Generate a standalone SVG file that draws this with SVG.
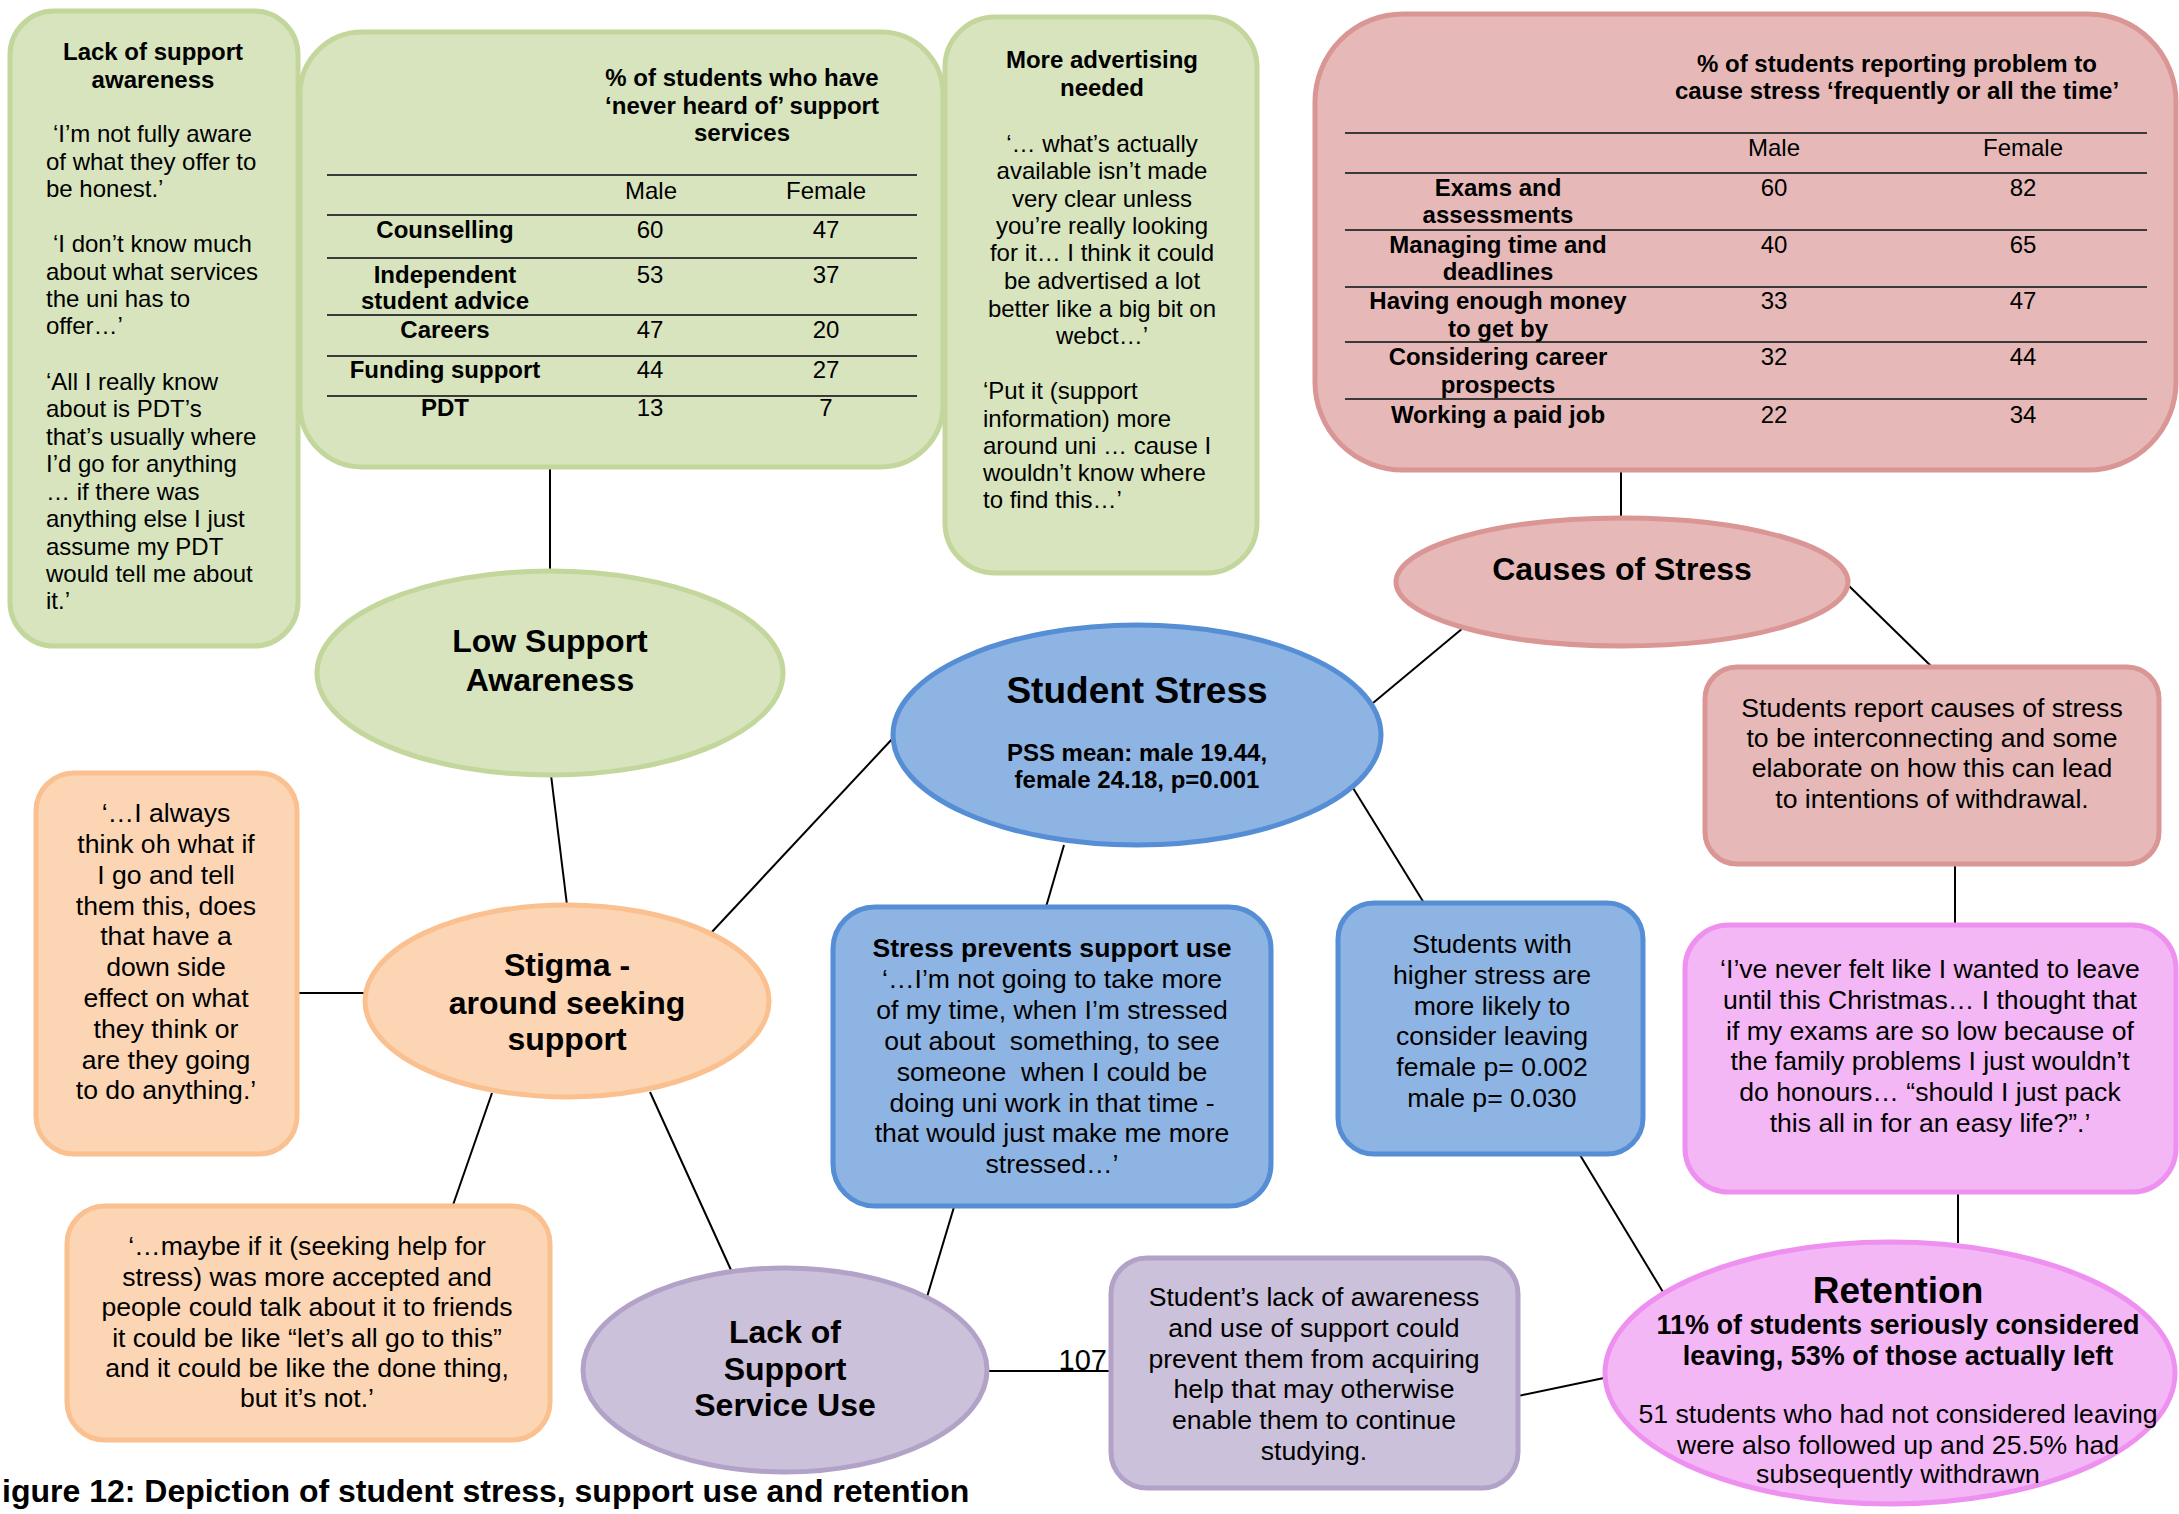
<svg xmlns="http://www.w3.org/2000/svg" width="2179" height="1514" viewBox="0 0 2179 1514">
<style>
text{font-family:"Liberation Sans",Arial,sans-serif;fill:#000}
.c{text-anchor:middle}
.r24{font-size:24px}
.b24{font-size:24px;font-weight:bold}
.r26{font-size:26.6px}
.b26{font-size:26.6px;font-weight:bold}
.b27{font-size:27px;font-weight:bold}
.b32{font-size:32px;font-weight:bold}
.b36{font-size:37px;font-weight:bold}
.green{fill:#D7E4BD;stroke:#C3D69B;stroke-width:5}
.red{fill:#E6B9B8;stroke:#D99694;stroke-width:5}
.blue{fill:#8EB4E3;stroke:#558ED5;stroke-width:5}
.orange{fill:#FCD5B5;stroke:#FAC090;stroke-width:5}
.purple{fill:#CCC1DA;stroke:#B3A2C7;stroke-width:5}
.magenta{fill:#F4B7F5;stroke:#EE90EF;stroke-width:5}
.rule{stroke:#3a3a3a;stroke-width:2}
.conn line{stroke:#000;stroke-width:2}
</style>
<rect width="2179" height="1514" fill="#fff"/>

<g id="connectors" class="conn">
<line x1="550" y1="468" x2="550" y2="571"/>
<line x1="551" y1="775" x2="567" y2="905"/>
<line x1="710" y1="934" x2="894" y2="737"/>
<line x1="297" y1="993" x2="366" y2="993"/>
<line x1="492" y1="1093" x2="453" y2="1205"/>
<line x1="650" y1="1092" x2="731" y2="1270"/>
<line x1="1064" y1="845" x2="1046" y2="907"/>
<line x1="954" y1="1207" x2="927" y2="1297"/>
<line x1="1353" y1="788" x2="1424" y2="903"/>
<line x1="1373" y1="703" x2="1463" y2="628"/>
<line x1="1621" y1="470" x2="1621" y2="518"/>
<line x1="1848" y1="585" x2="1932" y2="667"/>
<line x1="1955" y1="864" x2="1955" y2="925"/>
<line x1="1958" y1="1192" x2="1958" y2="1243"/>
<line x1="1580" y1="1155" x2="1663" y2="1292"/>
<line x1="1518" y1="1396" x2="1604" y2="1378"/>
<line x1="986" y1="1371" x2="1110" y2="1371"/>
</g>

<g id="lack-of-support-awareness">
<rect class="green" x="10" y="11" width="288" height="635" rx="44"/>
<text class="b24 c" x="153" y="60">Lack of support</text>
<text class="b24 c" x="153" y="88">awareness</text>
<text class="r24" x="53" y="142">‘I’m not fully aware</text>
<text class="r24" x="46" y="170">of what they offer to</text>
<text class="r24" x="46" y="197">be honest.’</text>
<text class="r24" x="53" y="252">‘I don’t know much</text>
<text class="r24" x="46" y="280">about what services</text>
<text class="r24" x="46" y="307">the uni has to</text>
<text class="r24" x="46" y="334">offer…’</text>
<text class="r24" x="46" y="390">‘All I really know</text>
<text class="r24" x="46" y="417">about is PDT’s</text>
<text class="r24" x="46" y="445">that’s usually where</text>
<text class="r24" x="46" y="472">I’d go for anything</text>
<text class="r24" x="46" y="500">… if there was</text>
<text class="r24" x="46" y="527">anything else I just</text>
<text class="r24" x="46" y="555">assume my PDT</text>
<text class="r24" x="46" y="582">would tell me about</text>
<text class="r24" x="46" y="609">it.’</text>
</g>

<g id="never-heard-table">
<rect class="green" x="300" y="32" width="643" height="435" rx="62"/>
<text class="b24 c" x="742" y="86">% of students who have</text>
<text class="b24 c" x="742" y="114">‘never heard of’ support</text>
<text class="b24 c" x="742" y="141">services</text>
<line class="rule" x1="327" y1="175" x2="917" y2="175"/>
<line class="rule" x1="327" y1="215" x2="917" y2="215"/>
<line class="rule" x1="327" y1="258" x2="917" y2="258"/>
<line class="rule" x1="327" y1="315" x2="917" y2="315"/>
<line class="rule" x1="327" y1="356" x2="917" y2="356"/>
<line class="rule" x1="327" y1="396" x2="917" y2="396"/>
<text class="r24 c" x="651" y="199">Male</text>
<text class="r24 c" x="826" y="199">Female</text>
<text class="b24 c" x="445" y="238">Counselling</text>
<text class="r24 c" x="650" y="238">60</text>
<text class="r24 c" x="826" y="238">47</text>
<text class="b24 c" x="445" y="283">Independent</text>
<text class="b24 c" x="445" y="309">student advice</text>
<text class="r24 c" x="650" y="283">53</text>
<text class="r24 c" x="826" y="283">37</text>
<text class="b24 c" x="445" y="338">Careers</text>
<text class="r24 c" x="650" y="338">47</text>
<text class="r24 c" x="826" y="338">20</text>
<text class="b24 c" x="445" y="378">Funding support</text>
<text class="r24 c" x="650" y="378">44</text>
<text class="r24 c" x="826" y="378">27</text>
<text class="b24 c" x="445" y="416">PDT</text>
<text class="r24 c" x="650" y="416">13</text>
<text class="r24 c" x="826" y="416">7</text>
</g>

<g id="more-advertising-needed">
<rect class="green" x="945" y="17" width="312" height="556" rx="50"/>
<text class="b24 c" x="1102" y="68">More advertising</text>
<text class="b24 c" x="1102" y="96">needed</text>
<text class="r24 c" x="1102" y="152">‘… what’s actually</text>
<text class="r24 c" x="1102" y="179">available isn’t made</text>
<text class="r24 c" x="1102" y="207">very clear unless</text>
<text class="r24 c" x="1102" y="234">you’re really looking</text>
<text class="r24 c" x="1102" y="261">for it… I think it could</text>
<text class="r24 c" x="1102" y="289">be advertised a lot</text>
<text class="r24 c" x="1102" y="317">better like a big bit on</text>
<text class="r24 c" x="1102" y="344">webct…’</text>
<text class="r24" x="983" y="399">‘Put it (support</text>
<text class="r24" x="983" y="427">information) more</text>
<text class="r24" x="983" y="454">around uni … cause I</text>
<text class="r24" x="983" y="481">wouldn’t know where</text>
<text class="r24" x="983" y="508">to find this…’</text>
</g>

<g id="stress-causes-table">
<rect class="red" x="1315" y="14" width="861" height="456" rx="88"/>
<text class="b24 c" x="1897" y="72">% of students reporting problem to</text>
<text class="b24 c" x="1897" y="99">cause stress ‘frequently or all the time’</text>
<line class="rule" x1="1345" y1="133" x2="2147" y2="133"/>
<line class="rule" x1="1345" y1="173" x2="2147" y2="173"/>
<line class="rule" x1="1345" y1="230" x2="2147" y2="230"/>
<line class="rule" x1="1345" y1="287" x2="2147" y2="287"/>
<line class="rule" x1="1345" y1="342" x2="2147" y2="342"/>
<line class="rule" x1="1345" y1="399" x2="2147" y2="399"/>
<text class="r24 c" x="1774" y="156">Male</text>
<text class="r24 c" x="2023" y="156">Female</text>
<text class="b24 c" x="1498" y="196">Exams and</text>
<text class="b24 c" x="1498" y="223">assessments</text>
<text class="r24 c" x="1774" y="196">60</text>
<text class="r24 c" x="2023" y="196">82</text>
<text class="b24 c" x="1498" y="253">Managing time and</text>
<text class="b24 c" x="1498" y="280">deadlines</text>
<text class="r24 c" x="1774" y="253">40</text>
<text class="r24 c" x="2023" y="253">65</text>
<text class="b24 c" x="1498" y="309">Having enough money</text>
<text class="b24 c" x="1498" y="337">to get by</text>
<text class="r24 c" x="1774" y="309">33</text>
<text class="r24 c" x="2023" y="309">47</text>
<text class="b24 c" x="1498" y="365">Considering career</text>
<text class="b24 c" x="1498" y="393">prospects</text>
<text class="r24 c" x="1774" y="365">32</text>
<text class="r24 c" x="2023" y="365">44</text>
<text class="b24 c" x="1498" y="423">Working a paid job</text>
<text class="r24 c" x="1774" y="423">22</text>
<text class="r24 c" x="2023" y="423">34</text>
</g>

<g id="causes-of-stress">
<ellipse class="red" cx="1622" cy="582" rx="226" ry="64"/>
<text class="b32 c" x="1622" y="580">Causes of Stress</text>
</g>

<g id="low-support-awareness">
<ellipse class="green" cx="550" cy="673" rx="233" ry="102"/>
<text class="b32 c" x="550" y="652">Low Support</text>
<text class="b32 c" x="550" y="691">Awareness</text>
</g>

<g id="student-stress">
<ellipse class="blue" cx="1137" cy="735" rx="244" ry="110"/>
<text class="b36 c" x="1137" y="703">Student Stress</text>
<text class="b24 c" x="1137" y="761">PSS mean: male 19.44,</text>
<text class="b24 c" x="1137" y="788">female 24.18, p=0.001</text>
</g>

<g id="causes-interconnecting">
<rect class="red" x="1705" y="667" width="454" height="197" rx="32"/>
<text class="r26 c" x="1932" y="717">Students report causes of stress</text>
<text class="r26 c" x="1932" y="747">to be interconnecting and some</text>
<text class="r26 c" x="1932" y="777">elaborate on how this can lead</text>
<text class="r26 c" x="1932" y="808">to intentions of withdrawal.</text>
</g>

<g id="stigma-quote-1">
<rect class="orange" x="36" y="773" width="261" height="381" rx="38"/>
<text class="r26 c" x="166" y="822">‘…I always</text>
<text class="r26 c" x="166" y="853">think oh what if</text>
<text class="r26 c" x="166" y="884">I go and tell</text>
<text class="r26 c" x="166" y="915">them this, does</text>
<text class="r26 c" x="166" y="945">that have a</text>
<text class="r26 c" x="166" y="976">down side</text>
<text class="r26 c" x="166" y="1007">effect on what</text>
<text class="r26 c" x="166" y="1038">they think or</text>
<text class="r26 c" x="166" y="1069">are they going</text>
<text class="r26 c" x="166" y="1099">to do anything.’</text>
</g>

<g id="stigma">
<ellipse class="orange" cx="567" cy="1001" rx="202" ry="96"/>
<text class="b32 c" x="567" y="976">Stigma -</text>
<text class="b32 c" x="567" y="1014">around seeking</text>
<text class="b32 c" x="567" y="1050">support</text>
</g>

<g id="stress-prevents-support-use">
<rect class="blue" x="833" y="907" width="438" height="299" rx="42"/>
<text class="b26 c" x="1052" y="957">Stress prevents support use</text>
<text class="r26 c" x="1052" y="988">‘…I’m not going to take more</text>
<text class="r26 c" x="1052" y="1019">of my time, when I’m stressed</text>
<text class="r26 c" x="1052" y="1050" xml:space="preserve">out about  something, to see</text>
<text class="r26 c" x="1052" y="1081" xml:space="preserve">someone  when I could be</text>
<text class="r26 c" x="1052" y="1112">doing uni work in that time -</text>
<text class="r26 c" x="1052" y="1142">that would just make me more</text>
<text class="r26 c" x="1052" y="1173">stressed…’</text>
</g>

<g id="higher-stress-leaving">
<rect class="blue" x="1338" y="903" width="305" height="251" rx="36"/>
<text class="r26 c" x="1492" y="953">Students with</text>
<text class="r26 c" x="1492" y="984">higher stress are</text>
<text class="r26 c" x="1492" y="1015">more likely to</text>
<text class="r26 c" x="1492" y="1045">consider leaving</text>
<text class="r26 c" x="1492" y="1076">female p= 0.002</text>
<text class="r26 c" x="1492" y="1107">male p= 0.030</text>
</g>

<g id="retention-quote">
<rect class="magenta" x="1685" y="925" width="491" height="267" rx="44"/>
<text class="r26 c" x="1930" y="978">‘I’ve never felt like I wanted to leave</text>
<text class="r26 c" x="1930" y="1009">until this Christmas… I thought that</text>
<text class="r26 c" x="1930" y="1040">if my exams are so low because of</text>
<text class="r26 c" x="1930" y="1070">the family problems I just wouldn’t</text>
<text class="r26 c" x="1930" y="1101">do honours… “should I just pack</text>
<text class="r26 c" x="1930" y="1132">this all in for an easy life?”.’</text>
</g>

<g id="stigma-quote-2">
<rect class="orange" x="67" y="1206" width="483" height="234" rx="38"/>
<text class="r26 c" x="307" y="1255">‘…maybe if it (seeking help for</text>
<text class="r26 c" x="307" y="1286">stress) was more accepted and</text>
<text class="r26 c" x="307" y="1316">people could talk about it to friends</text>
<text class="r26 c" x="307" y="1347">it could be like “let’s all go to this”</text>
<text class="r26 c" x="307" y="1377">and it could be like the done thing,</text>
<text class="r26 c" x="307" y="1407">but it’s not.’</text>
</g>

<g id="lack-of-support-service-use">
<ellipse class="purple" cx="785" cy="1370" rx="202" ry="102"/>
<text class="b32 c" x="785" y="1343">Lack of</text>
<text class="b32 c" x="785" y="1380">Support</text>
<text class="b32 c" x="785" y="1416">Service Use</text>
</g>

<text id="label-107" x="1107" y="1370" text-anchor="end" style="font-size:29px">107</text>

<g id="awareness-use-help">
<rect class="purple" x="1111" y="1258" width="407" height="230" rx="36"/>
<text class="r26 c" x="1314" y="1306">Student’s lack of awareness</text>
<text class="r26 c" x="1314" y="1337">and use of support could</text>
<text class="r26 c" x="1314" y="1368">prevent them from acquiring</text>
<text class="r26 c" x="1314" y="1398">help that may otherwise</text>
<text class="r26 c" x="1314" y="1429">enable them to continue</text>
<text class="r26 c" x="1314" y="1460">studying.</text>
</g>

<g id="retention">
<ellipse class="magenta" cx="1890" cy="1373" rx="285" ry="131"/>
<text class="b36 c" x="1898" y="1303">Retention</text>
<text class="b27 c" x="1898" y="1334">11% of students seriously considered</text>
<text class="b27 c" x="1898" y="1365">leaving, 53% of those actually left</text>
<text class="r26 c" x="1898" y="1423">51 students who had not considered leaving</text>
<text class="r26 c" x="1898" y="1454">were also followed up and 25.5% had</text>
<text class="r26 c" x="1898" y="1483">subsequently withdrawn</text>
</g>

<text id="caption" x="2" y="1502" class="b32">igure 12: Depiction of student stress, support use and retention</text>
</svg>
